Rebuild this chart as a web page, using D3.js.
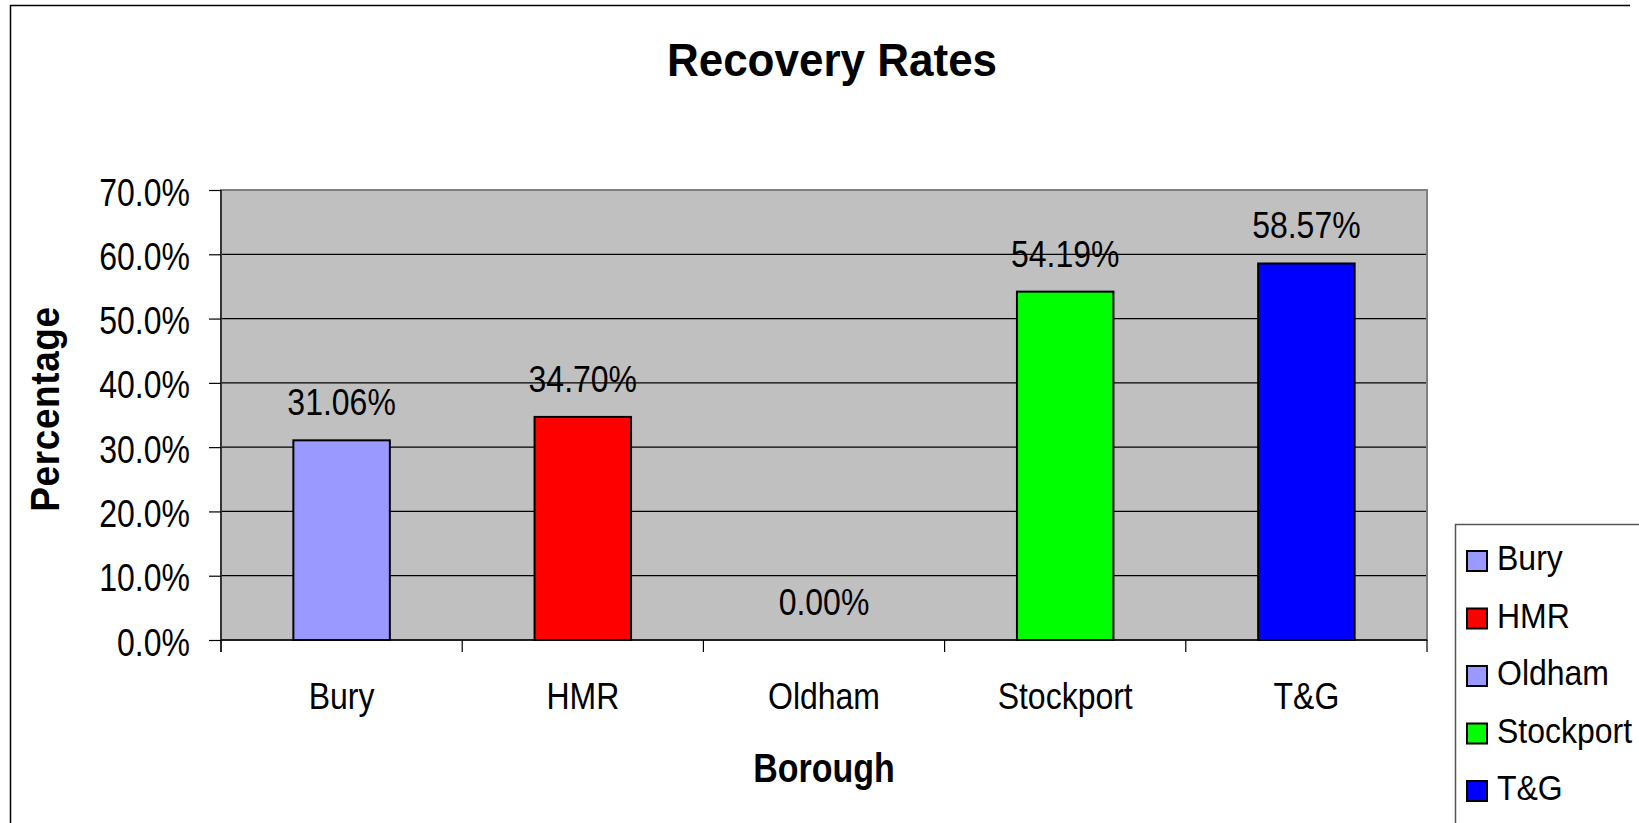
<!DOCTYPE html>
<html>
<head>
<meta charset="utf-8">
<script src="https://cdn.jsdelivr.net/npm/d3@7"></script>
<style>
  body { margin: 0; background: #fff; }
  svg { display: block; font-family: "Liberation Sans", Arial, sans-serif; }
</style>
</head>
<body>
<svg id="chart"></svg>
<script>
// data
let boroughs = ["Bury", "HMR", "Oldham", "Stockport", "T&G"];
let rates = [0.3106, 0.3470, 0.0, 0.5419, 0.5857];
let barColours = ["#9999FF", "#FF0000", "#9999FF", "#00FF00", "#0000FF"];
let yTicks = [0, 0.1, 0.2, 0.3, 0.4, 0.5, 0.6, 0.7];

let width = 1639, height = 823;
let svg = d3.select("#chart")
  .attr("width", width)
  .attr("height", height);

let left = 221, right = 1427, top_sp = 190, bottom = 640;

let xax = d3.scaleBand()
  .domain(boroughs)
  .range([left, right])
  .paddingInner(0.6)
  .paddingOuter(0.3);
let yax = d3.scaleLinear()
  .domain([0, 0.7])
  .range([bottom, top_sp]);

// text is drawn slightly stretched vertically, like the original
function addText(g, str, x, y, size, sy, anchor, weight) {
  return g.append("text")
    .text(str)
    .attr("transform", `translate(${x}, ${y}) scale(1, ${sy})`)
    .attr("text-anchor", anchor)
    .attr("font-size", size)
    .attr("font-weight", weight || "normal")
    .attr("fill", "#000");
}

// outer chart border (only the left and top edges are in frame)
svg.append("path")
  .attr("d", `M10.5,${height} L10.5,5.5 L1630,5.5`)
  .attr("fill", "none")
  .attr("stroke", "#000")
  .attr("stroke-width", 1.5);

// plot area
svg.append("rect")
  .attr("x", left)
  .attr("y", top_sp)
  .attr("width", right - left)
  .attr("height", bottom - top_sp)
  .attr("fill", "#C0C0C0");

// gridlines
svg.append("g")
  .selectAll("line")
  .data(yTicks.slice(1, -1))
  .join("line")
  .attr("x1", left)
  .attr("x2", right)
  .attr("y1", d => yax(d))
  .attr("y2", d => yax(d))
  .attr("stroke", "#000")
  .attr("stroke-width", 1.2);

svg.append("rect")
  .attr("x", left)
  .attr("y", top_sp)
  .attr("width", right - left)
  .attr("height", bottom - top_sp)
  .attr("fill", "none")
  .attr("stroke", "#808080")
  .attr("stroke-width", 2);

// bars
svg.append("g")
  .selectAll("rect")
  .data(boroughs.map((b, i) => ({b: b, v: rates[i], c: barColours[i]})).filter(d => d.v > 0))
  .join("rect")
  .attr("x", d => xax(d.b))
  .attr("y", d => yax(d.v))
  .attr("width", xax.bandwidth())
  .attr("height", d => yax(0) - yax(d.v))
  .attr("fill", d => d.c)
  .attr("stroke", "#000")
  .attr("stroke-width", 2);

// data labels
let labels = svg.append("g");
boroughs.forEach((b, i) => {
  addText(labels, d3.format(".2%")(rates[i]), xax(b) + xax.bandwidth() / 2, yax(rates[i]) - 25, 32, 1.18, "middle");
});

// y axis
let yax_draw = d3.axisLeft(yax)
  .tickValues(yTicks)
  .tickSize(12)
  .tickFormat("");
svg.append("g")
  .attr("class", "axis")
  .attr("transform", `translate(${left}, 0)`)
  .call(yax_draw)
  .call(g => g.select(".domain").remove())
  .selectAll("line").attr("stroke", "#000").attr("stroke-width", 1.2);
svg.append("line")
  .attr("x1", left).attr("x2", left)
  .attr("y1", top_sp).attr("y2", bottom + 12)
  .attr("stroke", "#000").attr("stroke-width", 1.2);

let ylab = svg.append("g");
yTicks.forEach(t => {
  addText(ylab, d3.format(".1%")(t), 190, yax(t) + 15.5, 32, 1.24, "end");
});

// x axis: ticks on the category boundaries
let edges = boroughs.map(b => xax(b) - xax.step() * 0.3).concat([right]);
svg.append("line")
  .attr("x1", left).attr("x2", right)
  .attr("y1", bottom).attr("y2", bottom)
  .attr("stroke", "#000").attr("stroke-width", 1.5);
svg.append("g")
  .selectAll("line")
  .data(edges)
  .join("line")
  .attr("x1", d => d).attr("x2", d => d)
  .attr("y1", bottom).attr("y2", bottom + 12)
  .attr("stroke", "#000").attr("stroke-width", 1.2);

let xlab = svg.append("g");
boroughs.forEach(b => {
  addText(xlab, b, xax(b) + xax.bandwidth() / 2, 709, 32, 1.18, "middle");
});

// titles
addText(svg, "Recovery Rates", 832, 76, 44, 1.05, "middle", "bold");
addText(svg, "Borough", (left + right) / 2, 782, 34, 1.22, "middle", "bold");
svg.append("text")
  .text("Percentage")
  .attr("transform", `translate(59, ${(top_sp + bottom) / 2 - 6}) rotate(-90) scale(1, 1.08)`)
  .attr("text-anchor", "middle")
  .attr("font-size", 37)
  .attr("letter-spacing", 0.6)
  .attr("font-weight", "bold");

// legend (box runs off the right and bottom edges)
let legend = svg.append("g");
legend.append("path")
  .attr("d", `M1455.5,${height} L1455.5,524.5 L${width},524.5`)
  .attr("fill", "none")
  .attr("stroke", "#555")
  .attr("stroke-width", 1.5);
boroughs.forEach((b, i) => {
  let cy = 561 + i * 57.5;
  legend.append("rect")
    .attr("x", 1467)
    .attr("y", cy - 10)
    .attr("width", 20)
    .attr("height", 20)
    .attr("fill", barColours[i])
    .attr("stroke", "#000")
    .attr("stroke-width", 2);
  addText(legend, b, 1497, cy + 9, 32, 1.1, "start");
});
</script>
</body>
</html>
